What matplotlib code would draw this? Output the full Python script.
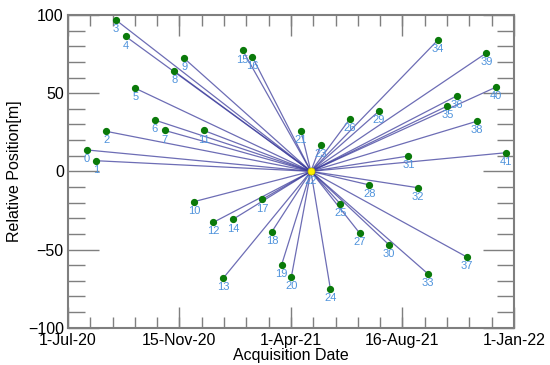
import numpy as np
import matplotlib
matplotlib.use("Agg")
import matplotlib.pyplot as plt
import matplotlib.dates as mdates
from matplotlib.ticker import FixedLocator
from datetime import datetime

plt.rcParams['font.family'] = ['Liberation Sans', 'DejaVu Sans']

""" DATA """

acq_dates = [
    "2020-07-24", "2020-08-05", "2020-08-17", "2020-08-29", "2020-09-10",
    "2020-09-22", "2020-10-16", "2020-10-28", "2020-11-09", "2020-11-21",
    "2020-12-03", "2020-12-15", "2020-12-27", "2021-01-08", "2021-01-20",
    "2021-02-01", "2021-02-13", "2021-02-25", "2021-03-09", "2021-03-21",
    "2021-04-02", "2021-04-14", "2021-04-26", "2021-05-08", "2021-05-20",
    "2021-06-01", "2021-06-13", "2021-06-25", "2021-07-07", "2021-07-19",
    "2021-07-31", "2021-08-24", "2021-09-05", "2021-09-17", "2021-09-29",
    "2021-10-11", "2021-10-23", "2021-11-04", "2021-11-16", "2021-11-28",
    "2021-12-10", "2021-12-22",
]
rel_position = [
    13.7, 6.8, 25.6, 96.8, 86.3, 53.1, 32.8, 26.2, 64.0, 72.3,
    -19.4, 26.2, -32.6, -68.4, -30.7, 77.4, 73.1, -17.9, -38.6, -59.7,
    -67.4, 25.6, 0.0, 16.7, -75.2, -20.7, 33.5, -39.5, -8.7, 38.6,
    -46.9, 9.8, -10.5, -65.5, 83.8, 41.8, 48.4, -54.8, 32.0, 75.7,
    53.9, 11.9,
]
master_idx = 22

x_tick_dates = ["2020-07-01", "2020-11-15", "2021-04-01", "2021-08-16", "2022-01-01"]
x_tick_labels = ["1-Jul-20", "15-Nov-20", "1-Apr-21", "16-Aug-21", "1-Jan-22"]
y_ticks = [-100, -50, 0, 50, 100]

""" PLOT """

LINE_COLOR = "#3c3c9c"
POINT_COLOR = "#0a7a0a"
LABEL_COLOR = "#4f93dc"
AXIS_COLOR = "#7f7f7f"

dates = mdates.date2num([datetime.strptime(d, "%Y-%m-%d") for d in acq_dates])
xt = mdates.date2num([datetime.strptime(d, "%Y-%m-%d") for d in x_tick_dates])

fig = plt.figure(figsize=(5.5, 3.65), dpi=100)
ax = fig.add_axes([0.1236, 0.1022, 0.8109, 0.8567])

# star graph: every slave linked to the master image
mx, my = dates[master_idx], rel_position[master_idx]
for i in range(len(dates)):
    if i == master_idx:
        continue
    ax.plot([mx, dates[i]], [my, rel_position[i]], color=LINE_COLOR, alpha=0.75, lw=0.9, zorder=1)

ax.plot(dates, rel_position, 'o', color=POINT_COLOR, ms=4.2, zorder=3)
ax.plot([mx], [my], 'o', color="#ffee00", mec="#d0c000", mew=0.5, ms=5, zorder=4)

for i in range(len(dates)):
    ax.annotate(str(i), (dates[i], rel_position[i]), xytext=(0, -3), textcoords="offset points",
                ha="center", va="top", fontsize=8, color=LABEL_COLOR, zorder=5)

ax.set_xlim(xt[0], xt[-1])
ax.set_ylim(-100, 100)

ax.xaxis.set_major_locator(FixedLocator(xt))
ax.set_xticklabels(x_tick_labels)
ax.xaxis.set_minor_locator(FixedLocator(np.linspace(xt[0], xt[-1], 21)))
ax.set_yticks(y_ticks)
ax.yaxis.set_minor_locator(FixedLocator(np.arange(-100, 101, 10)))

ax.tick_params(axis='x', which='major', direction='in', length=15, width=1, color=AXIS_COLOR,
               top=True, labelsize=11.5, pad=4)
ax.tick_params(axis='x', which='minor', direction='in', length=8, width=1, color=AXIS_COLOR, top=True)
ax.tick_params(axis='y', which='major', direction='in', length=22, width=1, color=AXIS_COLOR,
               right=True, labelsize=11.5, pad=3)
ax.tick_params(axis='y', which='minor', direction='in', length=12, width=1, color=AXIS_COLOR, right=True)

for s in ax.spines.values():
    s.set_color(AXIS_COLOR)
    s.set_linewidth(1.5)

ax.set_xlabel("Acquisition Date", fontsize=11.5, labelpad=0)
ax.set_ylabel("Relative Position[m]", fontsize=11.5, labelpad=4)

fig.savefig("out.png", dpi=100)
